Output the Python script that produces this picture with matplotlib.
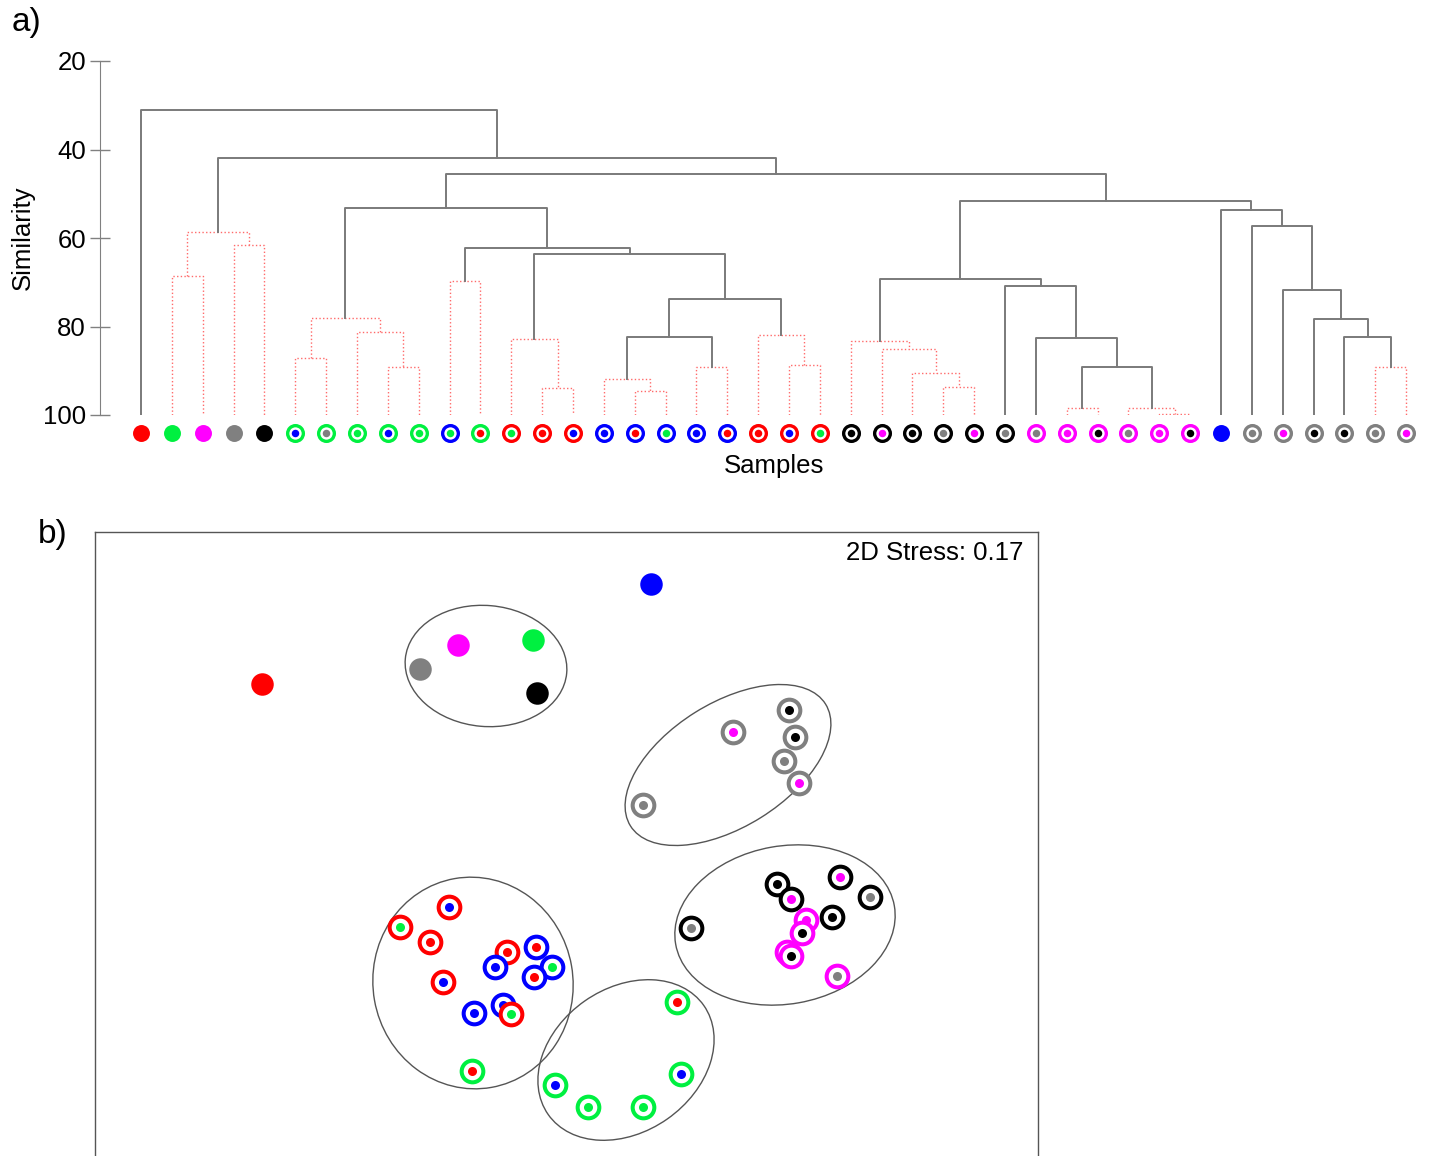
import matplotlib
matplotlib.use("Agg")
import matplotlib.pyplot as plt
from matplotlib.patches import Ellipse

plt.rcParams['font.family'] = ['Liberation Sans', 'DejaVu Sans']

R, G, B, M, Y, K = '#ff0000', '#00f040', '#0000ff', '#ff00ff', '#808080', '#000000'

# ---- dendrogram (group-average linkage, similarity %) ----
# merge i creates cluster id 42 + i ; ids < 42 are samples
merge_a = [33, 30, 32, 16, 13, 26, 15, 25, 8, 18, 40, 43, 21, 5, 24, 23, 12, 29, 48, 39,
           20, 7, 38, 55, 60, 37, 28, 10, 57, 1, 58, 69, 3, 71, 36, 35, 65, 70, 78, 75, 0]
merge_b = [34, 31, 42, 17, 14, 27, 45, 47, 9, 19, 41, 44, 22, 6, 49, 56, 46, 53, 51, 52,
           54, 50, 61, 63, 62, 64, 59, 11, 68, 2, 66, 72, 4, 74, 67, 76, 73, 77, 79, 80, 81]
merge_sim = [99.8, 98.4, 98.4, 94.6, 93.9, 93.6, 91.9, 90.6, 89.2, 89.2, 89.2, 89.2, 88.7,
             87.1, 85.1, 83.3, 82.8, 82.6, 82.4, 82.4, 81.9, 81.3, 78.3, 78.1, 73.8, 71.7,
             70.8, 69.7, 69.3, 68.6, 63.6, 62.3, 61.6, 58.6, 57.3, 53.7, 53.2, 51.6, 45.5,
             41.9, 31.1]
# 1 = no significant structure (SIMPROF, red dotted), 0 = significant split
merge_ns = [1, 1, 1, 1, 1, 1, 1, 1, 1, 1, 1, 0, 1, 1, 1, 1, 1, 0, 0, 0, 1, 1, 0, 1, 0, 0,
            0, 1, 0, 1, 0, 0, 1, 1, 0, 0, 0, 0, 0, 0, 0]

# sample symbols in leaf order (outer ring colour, centre colour); None = plain dot
leaf_ring = [None, None, None, None, None, G, G, G, G, G, B, G, R, R, R, B, B, B, B, B, R, R,
             R, K, K, K, K, K, K, M, M, M, M, M, M, None, Y, Y, Y, Y, Y, Y]
leaf_dot = [R, G, M, Y, K, B, Y, G, B, G, G, R, G, R, B, B, R, G, B, R, R, B, G, K, M, K,
            Y, M, Y, Y, M, K, Y, M, K, B, Y, M, K, K, Y, M]

# ---- nMDS ordination ----
mds_x = [-3.04, 0.85, -1.08, -0.33, -1.46, -0.29,
         2.23, 1.67, 2.29, 2.18, 2.33, 0.77,
         2.11, 2.74, 2.25, 3.04, 2.66, 1.25,
         2.40, 2.23, 2.36, 2.21, 2.25, 2.71,
         -1.17, -1.66, -1.36, -1.23, -0.59,
         -0.30, -0.71, -0.14, -0.32, -0.63, -0.92, -0.55,
         -0.94, 1.11, 1.15, -0.11, 0.22, 0.77]
mds_y = [1.61, 2.61, 2.00, 2.05, 1.76, 1.52,
         1.35, 1.13, 1.08, 0.84, 0.62, 0.40,
         -0.39, -0.32, -0.54, -0.52, -0.72, -0.83,
         -0.75, -1.09, -0.88, -1.07, -1.11, -1.31,
         -0.62, -0.82, -0.97, -1.37, -1.07,
         -1.02, -1.22, -1.22, -1.32, -1.60, -1.68, -1.69,
         -2.26, -1.57, -2.29, -2.40, -2.62, -2.62]
mds_ring = [None, None, None, None, None, None,
            Y, Y, Y, Y, Y, Y,
            K, K, K, K, K, K,
            M, M, M, M, M, M,
            R, R, R, R, R,
            B, B, B, B, B, B, R,
            G, G, G, G, G, G]
mds_dot = [R, B, M, G, Y, K,
           K, M, K, Y, M, Y,
           K, M, M, Y, K, Y,
           M, M, K, Y, K, Y,
           B, G, R, B, R,
           R, B, G, R, B, B, G,
           R, R, B, B, G, G]

# cluster outlines: centre x, centre y, width, height, angle
hull_cx = [-0.80, 1.62, 2.19, -0.93, 0.60]
hull_cy = [1.79, 0.80, -0.80, -1.38, -2.15]
hull_w = [1.62, 2.30, 2.22, 2.12, 1.90]
hull_h = [1.21, 1.24, 1.58, 2.00, 1.44]
hull_ang = [-5, 32, 10, 100, 35]

W, H = 1430, 1156
FS = 18.5
fig = plt.figure(figsize=(W / 100, H / 100), dpi=100)

# ================= a) dendrogram =================
ax = fig.add_axes([100 / W, (H - 415) / H, 1320 / W, 354 / H])
n = len(leaf_ring)


def draw(node):
    if node < n:
        return float(node), 100.0
    i = node - n
    xa, ha = draw(merge_a[i])
    xb, hb = draw(merge_b[i])
    h = merge_sim[i]
    if merge_ns[i]:
        ax.plot([xa, xa, xb, xb], [ha, h, h, hb], color='#ff6a6a', lw=1.0, ls=':')
    else:
        ax.plot([xa, xa, xb, xb], [ha, h, h, hb], color='#7a7a7a', lw=1.4)
    return (xa + xb) / 2, h


draw(n + len(merge_sim) - 1)

ym = 104.07
for i in range(n):
    if leaf_ring[i] is None:
        ax.plot(i, ym, 'o', ms=12.2, mfc=leaf_dot[i], mec='none', clip_on=False)
    else:
        ax.plot(i, ym, 'o', ms=11.3, mfc='white', mec=leaf_ring[i], mew=2.4, clip_on=False)
        ax.plot(i, ym, 'o', ms=5.4, mfc=leaf_dot[i], mec='none', clip_on=False)

ax.set_xlim(-1.33, 41.45)
ax.set_ylim(100, 20)
ax.set_yticks([20, 40, 60, 80, 100])
ax.tick_params(axis='y', direction='inout', length=14, width=1, color='#808080',
               labelsize=FS, pad=3)
ax.set_xticks([])
for s in ['top', 'right', 'bottom']:
    ax.spines[s].set_visible(False)
ax.spines['left'].set_color('#808080')
ax.set_ylabel('Similarity', fontsize=FS, labelpad=6)
fig.text(774 / W, 1 - 466 / H, 'Samples', fontsize=FS, ha='center', va='center')
fig.text(12 / W, 1 - 22 / H, 'a)', fontsize=24, va='center', ha='left')

# ================= b) nMDS =================
bx = fig.add_axes([95 / W, (H - 1200) / H, 943 / W, 668 / H])
bx.set_xlim(-4.71, 4.72)
bx.set_ylim(-3.55, 3.13)
for i in range(len(hull_cx)):
    bx.add_patch(Ellipse((hull_cx[i], hull_cy[i]), hull_w[i], hull_h[i], angle=hull_ang[i],
                         fill=False, ec='#555555', lw=1.0))
for i in range(len(mds_x)):
    if mds_ring[i] is None:
        bx.plot(mds_x[i], mds_y[i], 'o', ms=16.2, mfc=mds_dot[i], mec='none')
    else:
        bx.plot(mds_x[i], mds_y[i], 'o', ms=15.6, mfc='white', mec=mds_ring[i], mew=2.9)
        bx.plot(mds_x[i], mds_y[i], 'o', ms=6.5, mfc=mds_dot[i], mec='none')
bx.set_xticks([])
bx.set_yticks([])
for s in bx.spines.values():
    s.set_color('#555555')
    s.set_linewidth(1.0)
bx.text(0.985, 0.969, '2D Stress: 0.17', transform=bx.transAxes, ha='right', va='center',
        fontsize=FS)
fig.text(38 / W, 1 - 535 / H, 'b)', fontsize=24, va='center', ha='left')

fig.savefig('out.png', dpi=100)
